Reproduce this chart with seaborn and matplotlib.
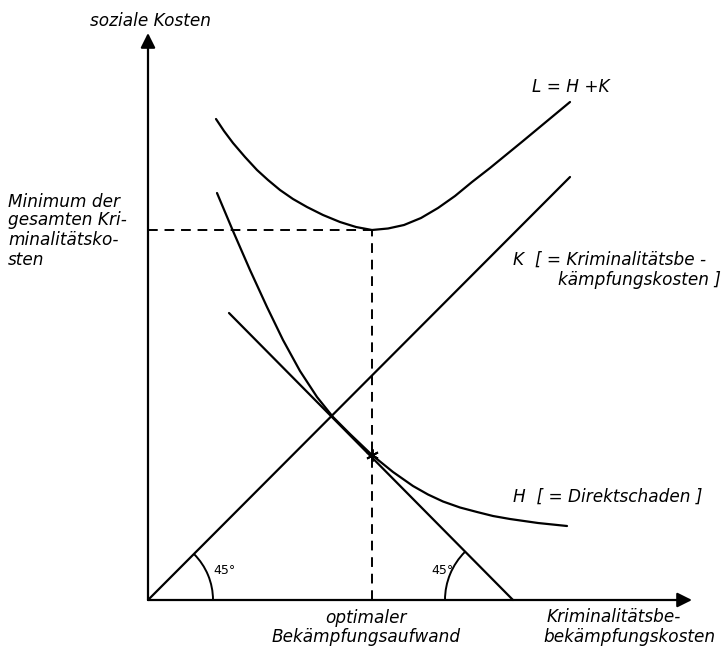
import numpy as np
import pandas as pd
import seaborn as sns
import matplotlib.pyplot as plt
from matplotlib.patches import Arc

# --- Kurvenwerte ---
L_x = [68, 76, 85, 97, 109, 120, 132, 145, 159, 175, 192, 208, 224,
       240, 256, 273, 290, 307, 324, 342, 375, 422]
L_y = [481, 469, 457, 443, 430, 420, 410, 401, 393, 385, 378, 373, 370,
       371.5, 375, 382, 392, 404, 418, 432, 459, 498]

H_x = [69, 77, 85, 102, 119, 135, 152, 169, 185, 202, 224,
       245, 265, 280, 295, 312, 329, 345, 362, 390, 419]
H_y = [407, 388, 369, 330, 293, 260, 229, 203, 183, 166, 145,
       128, 114, 105.5, 98.5, 92.5, 88, 84, 81, 77, 74]

K_x = [0, 422]
K_y = [0, 423]

T_x = [81, 365]
T_y = [287, 0]

x_opt = 224
L_min = 370

sns.set_theme(style="white")
plt.rcParams['font.family'] = ['DejaVu Sans']

fig = plt.figure(figsize=(7.27, 6.46), dpi=100)
ax = fig.add_axes([0, 0, 1, 1])
ax.set_xlim(-148, 579)
ax.set_ylim(-46, 600)
ax.axis('off')

lw = 1.6
kw = dict(color='black', linewidth=lw, ax=ax, legend=False)
sns.lineplot(x=L_x, y=L_y, **kw)
sns.lineplot(x=H_x, y=H_y, **kw)
sns.lineplot(x=K_x, y=K_y, **kw)
sns.lineplot(x=T_x, y=T_y, **kw)

# gestrichelte Hilfslinien
ax.plot([0, x_opt], [L_min, L_min], color='black', lw=1.4, ls=(0, (5, 3.5)))
ax.plot([x_opt, x_opt], [0, L_min], color='black', lw=1.4, ls=(0, (5, 3.5)))

# Tangentialpunkt
ax.plot([x_opt], [H_y[H_x.index(x_opt)]], marker=(6, 2, 0), color='black',
        markersize=9, mew=1.4)

# Achsen mit Pfeilen
arrow = dict(arrowstyle='-|>', lw=1.6, color='black', mutation_scale=22,
             shrinkA=0, shrinkB=0)
ax.annotate('', xy=(0, 567), xytext=(0, 0), arrowprops=arrow)
ax.annotate('', xy=(544, 0), xytext=(0, 0), arrowprops=arrow)

# 45°-Bögen
ax.add_patch(Arc((0, 0), 130, 130, theta1=0, theta2=45, color='black', lw=1.4))
ax.add_patch(Arc((365, 0), 136, 136, theta1=135, theta2=180, color='black', lw=1.4))

fs = 12.2
txt = dict(fontsize=fs, style='italic', color='black')
ax.text(2, 579, 'soziale Kosten', ha='center', va='center', **txt)
ax.text(384, 513, 'L = H +K', ha='left', va='center', **txt)
ax.text(365, 340, 'K  [ = Kriminalitätsbe -', ha='left', va='center', **txt)
ax.text(410, 320, 'kämpfungskosten ]', ha='left', va='center', **txt)
ax.text(365, 103, 'H  [ = Direktschaden ]', ha='left', va='center', **txt)

for yy, line in zip([398, 380, 360, 340],
                    ['Minimum der', 'gesamten Kri-', 'minalitätsko-', 'sten']):
    ax.text(-140, yy, line, ha='left', va='center', **txt)

ax.text(218, -18, 'optimaler', ha='center', va='center', **txt)
ax.text(218, -37, 'Bekämpfungsaufwand', ha='center', va='center', **txt)
ax.text(399, -17, 'Kriminalitätsbe-', ha='left', va='center', **txt)
ax.text(395, -37, 'bekämpfungskosten', ha='left', va='center', **txt)

ax.text(77, 30, '45°', ha='center', va='center', fontsize=9, color='black')
ax.text(294, 30, '45°', ha='center', va='center', fontsize=9, color='black')

fig.savefig('out.png', dpi=100)
